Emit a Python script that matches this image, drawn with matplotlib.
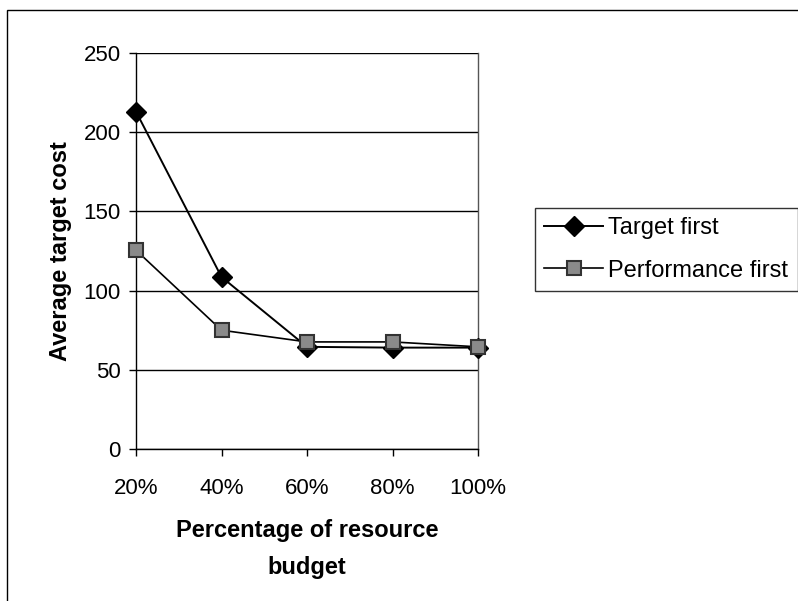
import matplotlib.pyplot as plt
from matplotlib.patches import Rectangle

plt.rcParams['font.family'] = ['Liberation Sans', 'DejaVu Sans']

# data
budget_labels = ['20%', '40%', '60%', '80%', '100%']
target_first = [213, 108.6, 64.5, 64, 64]
performance_first = [125.5, 75, 67.6, 67.6, 64.5]
y_ticks = [0, 50, 100, 150, 200, 250]

fig = plt.figure(figsize=(7.98, 6.01), dpi=100)
ax = fig.add_axes([136 / 798, 1 - 449 / 601, (478 - 136) / 798, (449 - 53) / 601])

x = list(range(len(budget_labels)))
ax.plot(x, target_first, color='black', lw=1.4, marker='D', markersize=10,
        markerfacecolor='black', markeredgecolor='black', label='Target first',
        zorder=5, clip_on=False)
ax.plot(x, performance_first, color='black', lw=1.2, marker='s', markersize=10,
        markerfacecolor='#8a8a8a', markeredgecolor='#333333', markeredgewidth=1.5,
        label='Performance first', zorder=6, clip_on=False)

ax.set_xlim(0, len(budget_labels) - 1)
ax.set_ylim(0, 250)
ax.set_xticks(x)
ax.set_xticklabels(budget_labels)
ax.set_yticks(y_ticks)

ax.grid(axis='y', color='black', lw=1.0, zorder=0)
for side in ['left', 'bottom']:
    ax.spines[side].set_color('black')
    ax.spines[side].set_linewidth(1.0)
ax.spines['top'].set_visible(False)
ax.spines['right'].set_color('#555555')
ax.spines['right'].set_linewidth(1.0)

ax.tick_params(axis='both', direction='out', length=5, width=1, labelsize=16,
               colors='black', pad=6)
ax.tick_params(axis='x', pad=16)

ax.set_ylabel('Average target cost', fontsize=17, fontweight='bold', labelpad=8)
ax.set_xlabel('Percentage of resource\nbudget', fontsize=17, fontweight='bold',
              labelpad=14, linespacing=1.8)

leg = ax.legend(loc='upper left', bbox_to_anchor=(535 / 798, 1 - 208 / 601),
                bbox_transform=fig.transFigure, fontsize=17, frameon=True,
                fancybox=False, edgecolor='black', handlelength=2.5,
                handletextpad=0.2, borderpad=0.4, labelspacing=0.85,
                borderaxespad=0)
leg.get_frame().set_linewidth(1.0)

# outer chart border (partly cut off on right and bottom)
fig.patches.append(Rectangle((7 / 798, -0.1), 1.2, 1.1 - 10 / 601,
                             transform=fig.transFigure, fill=False,
                             edgecolor='black', lw=1.0))

fig.savefig('out.png', dpi=100, facecolor='white')
